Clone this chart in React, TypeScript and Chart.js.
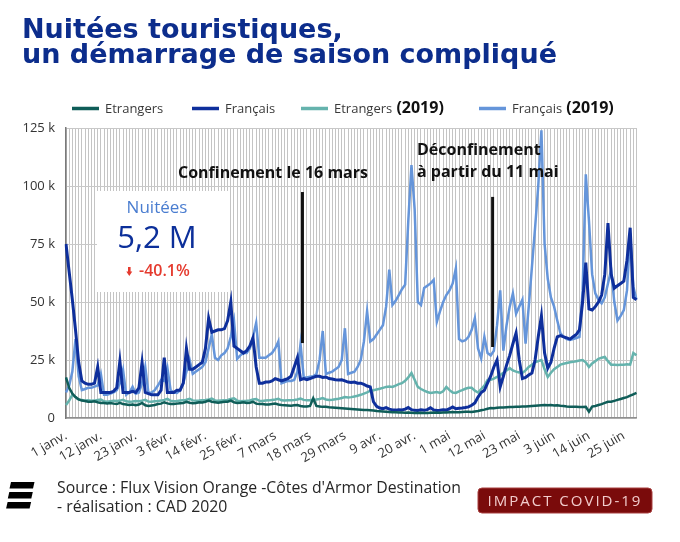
import { useEffect, useRef } from 'react';
import { Chart, registerables } from 'chart.js';

Chart.register(...registerables);

// ---- categories (1 janv. -> 29 juin 2020) ----
const monthNames = ['janv.', 'févr.', 'mars', 'avr.', 'mai', 'juin'];
const monthLengths = [31, 29, 31, 30, 31, 30];
const categories: string[] = monthLengths
  .flatMap((len, m) => Array.from({ length: len }, (_, i) => `${i + 1} ${monthNames[m]}`))
  .slice(0, 181);
const tickEvery = 11;

// ---- series (milliers de nuitées) ----
const etrangers2020 = [
  17.5, 13, 10.5, 9, 8, 7.5, 7.3, 7, 7, 7.2,
  6.8, 6.5, 6.5, 6.3, 6.5, 6.2, 6, 6.5, 6, 5.8,
  5.6, 5.8, 5.5, 5.8, 6.5, 5.5, 5.2, 5.4, 5.6, 6,
  6.2, 6.8, 6.3, 6, 6, 6.2, 6.4, 6.5, 7, 6.6,
  6.4, 6.5, 6.8, 6.7, 7, 7.5, 7, 6.8, 6.6, 6.8,
  7, 7, 7.5, 6.8, 6.5, 6.6, 6.8, 6.5, 6.6, 7,
  6.2, 6, 6, 5.8, 5.8, 6, 6.2, 5.8, 5.6, 5.5,
  5.4, 5.3, 5.5, 5.6, 5.2, 5, 5, 5.2, 8.5, 5.2,
  5, 4.8, 4.8, 4.6, 4.5, 4.4, 4.3, 4.2, 4.1, 4,
  3.9, 3.8, 3.7, 3.6, 3.5, 3.4, 3.3, 3.2, 3, 2.9,
  2.8, 2.7, 2.6, 2.5, 2.5, 2.4, 2.4, 2.3, 2.4, 2.3,
  2.2, 2.2, 2.3, 2.2, 2.2, 2.3, 2.4, 2.3, 2.3, 2.4,
  2.4, 2.5, 2.6, 2.5, 2.5, 2.6, 2.7, 2.7, 2.6, 2.8,
  3, 3.3, 3.6, 4, 4.3, 4.2, 4.4, 4.5, 4.5, 4.6,
  4.7, 4.7, 4.8, 4.9, 5, 5, 5.1, 5.2, 5.3, 5.4,
  5.5, 5.6, 5.5, 5.6, 5.4, 5.5, 5.3, 5.2, 5, 4.9,
  4.8, 4.8, 4.7, 4.7, 4.8, 2.7, 4.9, 5.2, 5.6, 6,
  6.5, 7, 7, 7.4, 7.8, 8.2, 8.6, 9, 9.6, 10.2,
  10.8,
];

const francais2020 = [
  75, 63, 51, 38, 24, 16, 15, 14.5, 14.5, 15,
  22, 11, 11, 11, 11, 11.5, 13, 24.5, 11, 11,
  11, 11.5, 11, 13, 24, 11, 10.5, 10, 10, 10,
  12, 26, 11, 11, 11, 12, 12, 15, 30, 21,
  21, 22, 23, 24, 30, 43, 37, 37.5, 38, 38,
  38.5, 42, 50, 31, 30, 29, 28, 29, 31, 34.5,
  22, 15, 15, 15.5, 15.5, 16, 17, 16.5, 16, 16.5,
  17, 18, 22, 26, 16.5, 17, 16.5, 17, 17.5, 18,
  18, 17.5, 17.7, 17, 16.8, 16.5, 16.4, 16.5, 16, 15.5,
  15.3, 15.5, 15, 15, 14.5, 13.8, 13.4, 7, 5, 4.3,
  4, 4.5, 3.8, 3.5, 3.4, 3.6, 3.5, 3.8, 4.5, 3.6,
  3.3, 3.2, 3.5, 3.3, 3.6, 4.4, 3.5, 3.2, 3.3, 3.5,
  3.4, 4, 4.8, 4, 4.2, 4.3, 4.5, 4.8, 5.5, 6.5,
  9, 11, 12, 15, 18, 22, 25, 13.5, 18, 22.8,
  27, 32, 36.6, 25, 17, 17.5, 18.5, 19.4, 25, 35,
  44, 28, 21.5, 24, 30, 35, 35.5, 35, 34.5, 34,
  35, 36, 38, 50, 67, 47, 46.5, 48, 50, 53,
  62, 84, 62, 56, 57, 58, 59, 68, 82, 52,
  51,
];

const etrangers2019 = [
  5.6, 7.5, 10, 9, 8, 7.8, 7.5, 7.6, 7.4, 7.5,
  7.8, 8, 7.2, 7, 7.2, 7.4, 7.3, 7.5, 7.8, 7.2,
  7, 7.1, 7.3, 7.2, 7.5, 7.8, 7.1, 7, 7.2, 7.3,
  7.5, 7.8, 8.2, 7.4, 7.2, 7.3, 7.5, 7.6, 7.9, 8.3,
  7.6, 7.4, 7.5, 7.7, 7.8, 8, 8.4, 7.6, 7.4, 7.5,
  7.6, 7.8, 8.2, 8.5, 7.5, 7.2, 7.3, 7.4, 7.6, 8,
  8.2, 7.4, 7.3, 7.5, 7.6, 7.8, 8, 8.3, 7.6, 7.5,
  7.6, 7.7, 7.8, 8, 8.4, 7.8, 7.6, 7.7, 7.9, 8,
  8.2, 8.6, 8, 7.8, 7.9, 8.1, 8.3, 8.6, 9, 8.8,
  9, 9.3, 9.6, 10, 10.5, 11, 11.8, 12, 12.3, 12.6,
  13, 13.4, 13.6, 13.4, 14, 14.6, 15, 16, 17.5, 19.4,
  16.5, 13.4, 12.5, 11.8, 11.2, 10.8, 11, 11.2, 10.8, 11.5,
  13.4, 12, 11, 10.8, 11.5, 12, 12.6, 13, 13, 11.8,
  11, 12.5, 14, 16.4, 16.5, 17, 17.7, 18.5, 19.5, 20.5,
  21.5, 20.5, 20, 19.6, 19.4, 20.5, 22, 23, 24, 24.5,
  25, 21, 17.7, 19.5, 21, 22, 23, 23.4, 23.7, 24,
  24.2, 24.5, 24.8, 25, 24, 22, 23.5, 24.5, 25.5, 26,
  26.3, 24.5, 23, 23, 22.8, 23, 23, 23.2, 23, 28,
  27,
];

const francais2019 = [
  11, 14, 20, 34, 18, 12, 12.5, 13, 13, 13.5,
  14, 19, 10, 10, 10.5, 11, 12, 15, 20.7, 10,
  11, 13.5, 10.5, 11, 15, 22, 10.8, 11, 12, 14,
  16.4, 16, 21.5, 12, 11, 10.8, 12, 15, 20, 25,
  19, 20, 21, 22, 24, 30, 36, 26, 25, 27,
  28, 30, 35, 42, 25.5, 27, 28, 28, 30, 35,
  41, 26, 26, 26, 27, 28, 30, 33, 15, 15.5,
  16, 16, 16.4, 20, 32, 17.5, 17.5, 17.8, 18, 19,
  25, 37.5, 19, 19.5, 20, 21, 22, 25, 38.7, 19,
  19.5, 20, 22, 25, 33, 46, 33, 34, 36, 38,
  40, 48, 64, 48.7, 50.5, 53, 55.5, 57.5, 85, 109,
  90, 50, 48.7, 56, 57, 58, 59.5, 41.5, 46, 50,
  53, 55, 58, 64.5, 34, 33, 33.5, 35, 38, 43,
  30, 25.7, 35, 28, 27, 29, 40, 55, 29, 40,
  48, 53.7, 45, 48, 51, 32, 48, 65, 82, 100,
  124, 75, 60, 52, 48, 42, 36.5, 35, 34, 33.6,
  34, 34.5, 35, 55, 105, 85, 62, 53.7, 51, 49.4,
  52, 58, 63.8, 50, 42, 44, 46.5, 55, 79.6, 56.6,
  51,
];

const seriesNames = ['Etrangers', 'Français', 'Etrangers', 'Français'];
const seriesColors = ['#0f5d58', '#0e2f9c', '#65b3ad', '#6595da'];
const seriesWidths = [2.5, 3, 2.5, 2.5];

// événements (index du jour, haut et bas du trait en milliers)
const eventDays = [74.6, 134.6];
const eventTops = [97.4, 95.3];
const eventBottoms = [32.3, 30.6];

const eventLinesPlugin = {
  id: 'eventLines',
  afterDatasetsDraw(chart: any) {
    const { ctx, scales } = chart;
    const x = scales.x;
    const y = scales.y;
    ctx.save();
    ctx.strokeStyle = '#111';
    ctx.lineWidth = 3;
    eventDays.forEach((d, i) => {
      const px = x.getPixelForValue(d);
      ctx.beginPath();
      ctx.moveTo(px, y.getPixelForValue(eventTops[i]));
      ctx.lineTo(px, y.getPixelForValue(eventBottoms[i]));
      ctx.stroke();
    });
    ctx.restore();
  },
};

const FONT = "'Open Sans', 'Noto Sans', sans-serif";

export default function App() {
  const canvasRef = useRef<HTMLCanvasElement | null>(null);

  useEffect(() => {
    if (!canvasRef.current) return;
    const data = [etrangers2020, francais2020, etrangers2019, francais2019];
    const chart = new Chart(canvasRef.current, {
      type: 'line',
      data: {
        labels: categories,
        datasets: data.map((d, i) => ({
          label: seriesNames[i] + (i >= 2 ? ' (2019)' : ''),
          data: d,
          borderColor: seriesColors[i],
          backgroundColor: seriesColors[i],
          borderWidth: seriesWidths[i],
          pointRadius: 0,
          tension: 0,
          fill: false,
        })),
      },
      options: {
        responsive: false,
        animation: false,
        devicePixelRatio: 1,
        layout: { padding: { left: 0, right: 43.5, top: 128, bottom: 64 } },
        plugins: {
          legend: { display: false },
          tooltip: { enabled: false },
          title: { display: false },
        },
        scales: {
          x: {
            type: 'category',
            offset: false,
            grid: { color: '#c4c4c4', lineWidth: 1, drawTicks: false },
            border: { color: '#8f8f8f', width: 1.5 },
            ticks: {
              autoSkip: false,
              minRotation: 30,
              maxRotation: 30,
              padding: 10,
              color: '#333',
              font: { family: FONT, size: 13 },
              callback: (_v: any, i: number) => (i % tickEvery === 0 ? categories[i] : ''),
            },
            afterFit: (s: any) => {
              s.height = 60;
            },
          },
          y: {
            min: 0,
            max: 125,
            ticks: {
              stepSize: 25,
              padding: 11,
              color: '#333',
              font: { family: FONT, size: 13 },
              callback: (v: any) => (v === 0 ? '0' : `${v} k`),
            },
            grid: { color: '#c8c8c8', lineWidth: 1, drawTicks: false },
            border: { color: '#7a7a7a', width: 1.5 },
            afterFit: (s: any) => {
              s.width = 66;
            },
          },
        },
      },
      plugins: [eventLinesPlugin],
    });
    return () => chart.destroy();
  }, []);

  const legendItems = [
    { x: 105, name: seriesNames[0], year: false, color: seriesColors[0] },
    { x: 225, name: seriesNames[1], year: false, color: seriesColors[1] },
    { x: 334, name: seriesNames[2], year: true, color: seriesColors[2] },
    { x: 512, name: seriesNames[3], year: true, color: seriesColors[3] },
  ];

  return (
    <div style={{ position: 'absolute', left: 0, top: 0, width: 680, height: 542, background: '#fff', overflow: 'hidden' }}>
      <canvas ref={canvasRef} width={680} height={542} style={{ position: 'absolute', left: 0, top: 0, width: 680, height: 542 }} />
      <svg width={680} height={542} style={{ position: 'absolute', left: 0, top: 0, pointerEvents: 'none' }}>
        {/* titre */}
        <text x={22} y={38} fontFamily="'DejaVu Sans', sans-serif" fontWeight="bold" fontSize={27} fill="#0c2d8c">
          Nuitées touristiques,
        </text>
        <text x={22} y={63} fontFamily="'DejaVu Sans', sans-serif" fontWeight="bold" fontSize={27} fill="#0c2d8c">
          un démarrage de saison compliqué
        </text>

        {/* légende */}
        {legendItems.map((it, i) => (
          <g key={i}>
            <line x1={it.x - 33} x2={it.x - 6} y1={108.5} y2={108.5} stroke={it.color} strokeWidth={3.5} />
            <text x={it.x} y={112.7} fontFamily={FONT} fontSize={13} fill="#3a3a3a">
              {it.name}
              {it.year ? (
                <tspan fontWeight="bold" fontSize={16} fill="#111">
                  {' (2019)'}
                </tspan>
              ) : null}
            </text>
          </g>
        ))}

        {/* encart */}
        <rect x={97} y={191} width={133} height={101} fill="#fff" />
        <text x={157} y={213} textAnchor="middle" fontFamily={FONT} fontSize={17} fill="#4a7dd0">
          Nuitées
        </text>
        <text x={157} y={248} textAnchor="middle" fontFamily={FONT} fontSize={31} fill="#0c2f9a">
          5,2 M
        </text>
        <polygon points="128,267 130.6,267 130.6,271.5 132.3,271.5 129.3,276 126.3,271.5 128,271.5" fill="#e53a2e" />
        <text x={139} y={276} fontFamily={FONT} fontSize={16} fontWeight={600} fill="#e53a2e">
          -40.1%
        </text>

        {/* annotations */}
        <text x={178} y={178} fontFamily={FONT} fontSize={16} fontWeight="bold" fill="#111">
          Confinement le 16 mars
        </text>
        <text x={417} y={155} fontFamily={FONT} fontSize={16} fontWeight="bold" fill="#111">
          Déconfinement
        </text>
        <text x={417} y={176.5} fontFamily={FONT} fontSize={16} fontWeight="bold" fill="#111">
          à partir du 11 mai
        </text>

        {/* pied */}
        <polygon points="11,482 34.5,482 33,488.5 9.5,488.5" fill="#000" />
        <polygon points="9.3,492 32.8,492 31.3,498.5 7.8,498.5" fill="#000" />
        <polygon points="7.6,502 31.1,502 29.6,508.5 6.1,508.5" fill="#000" />
        <text x={57} y={493} fontFamily={FONT} fontSize={15.8} fill="#262626">
          Source : Flux Vision Orange -Côtes d'Armor Destination
        </text>
        <text x={57} y={512} fontFamily={FONT} fontSize={15.8} fill="#262626">
          - réalisation : CAD 2020
        </text>

        <rect x={478} y={488} width={174} height={25} rx={4} fill="#7a0b0b" stroke="#a84040" strokeWidth={1} />
        <text x={565} y={506} textAnchor="middle" fontFamily={FONT} fontSize={15} letterSpacing={2} fill="#f2cccc">
          IMPACT COVID-19
        </text>
      </svg>
    </div>
  );
}
